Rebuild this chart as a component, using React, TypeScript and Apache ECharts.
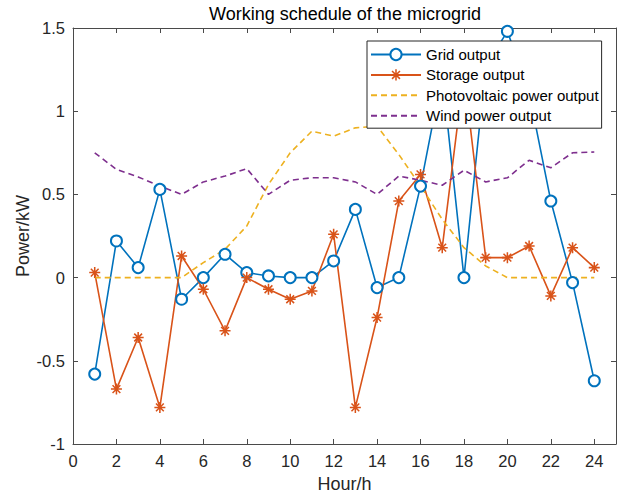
import React, { useEffect, useRef } from "react";
import * as echarts from "echarts";

const hours = [1, 2, 3, 4, 5, 6, 7, 8, 9, 10, 11, 12, 13, 14, 15, 16, 17, 18, 19, 20, 21, 22, 23, 24];
const gridOutput = [-0.58, 0.22, 0.06, 0.53, -0.13, 0.0, 0.14, 0.03, 0.01, 0.0, 0.0, 0.1, 0.41, -0.06, 0.0, 0.55, 1.22, 0.0, 1.27, 1.48, 1.11, 0.46, -0.03, -0.62];
const storageOutput = [0.03, -0.67, -0.36, -0.78, 0.13, -0.07, -0.32, 0.0, -0.07, -0.13, -0.08, 0.26, -0.78, -0.24, 0.46, 0.62, 0.18, 1.23, 0.12, 0.12, 0.19, -0.11, 0.18, 0.06];
const pvOutput = [0, 0, 0, 0, 0, 0.09, 0.17, 0.31, 0.56, 0.75, 0.88, 0.85, 0.9, 0.91, 0.74, 0.55, 0.35, 0.18, 0.07, 0, 0, 0, 0, 0];
const windOutput = [0.75, 0.65, 0.605, 0.55, 0.5, 0.575, 0.61, 0.655, 0.5, 0.585, 0.6, 0.6, 0.575, 0.5, 0.61, 0.585, 0.555, 0.645, 0.575, 0.6, 0.705, 0.66, 0.75, 0.755];
const seriesNames = ["Grid output", "Storage output", "Photovoltaic power output", "Wind power output"];

const asterisk =
  "path://M8.75 1L11.25 1L11.25 19L8.75 19Z M1 8.75L19 8.75L19 11.25L1 11.25Z M4.52 2.75L17.25 15.48L15.48 17.25L2.75 4.52Z M2.75 15.48L15.48 2.75L17.25 4.52L4.52 17.25Z";

const FONT = "'Liberation Sans', Arial, Helvetica, sans-serif";
const AXIS_COLOR = "#4a4a4a";
const LABEL_COLOR = "#262626";

function pairs(vals: number[]) {
  return hours.map((h, i) => [h, vals[i]]);
}

export default function App() {
  const ref = useRef<HTMLDivElement>(null);
  useEffect(() => {
    if (!ref.current) return;
    const chart = echarts.init(ref.current, undefined, { renderer: "svg" });
    const axisCommon = {
      axisLine: { show: true, onZero: false, lineStyle: { color: AXIS_COLOR, width: 1 } },
      axisTick: { show: true, inside: true, length: 5, lineStyle: { color: AXIS_COLOR, width: 1 } },
      splitLine: { show: false },
    };
    chart.setOption({
      animation: false,
      backgroundColor: "#ffffff",
      textStyle: { fontFamily: FONT },
      title: {
        text: "Working schedule of the microgrid",
        left: 345,
        textAlign: "center",
        top: 5,
        padding: 0,
        textStyle: { fontFamily: FONT, fontSize: 18, fontWeight: "normal", color: "#000" },
      },
      grid: { left: 73, right: 5, top: 28, bottom: 52, containLabel: false },
      legend: {
        orient: "vertical",
        left: 367,
        top: 41,
        padding: [6, 3, 5, 3],
        itemWidth: 50,
        itemHeight: 14,
        itemGap: 5.4,
        backgroundColor: "#fff",
        borderColor: "#262626",
        borderWidth: 1,
        borderRadius: 0,
        data: [
          { name: seriesNames[0] },
          { name: seriesNames[1] },
          { name: seriesNames[2], itemStyle: { opacity: 0 } },
          { name: seriesNames[3], itemStyle: { opacity: 0 } },
        ],
        textStyle: { fontFamily: FONT, fontSize: 15, color: "#000" },
      },
      xAxis: [
        {
          ...axisCommon,
          type: "value",
          position: "bottom",
          min: 0,
          max: 25,
          interval: 2,
          name: "Hour/h",
          nameLocation: "middle",
          nameGap: 31,
          nameMoveOverlap: false,
          nameTextStyle: { fontFamily: FONT, fontSize: 18, color: LABEL_COLOR },
          axisLabel: { show: true, margin: 8, showMaxLabel: false, fontFamily: FONT, fontSize: 16.5, color: LABEL_COLOR },
        },
        {
          ...axisCommon,
          type: "value",
          position: "top",
          min: 0,
          max: 25,
          interval: 2,
          axisLabel: { show: false },
        },
      ],
      yAxis: [
        {
          ...axisCommon,
          type: "value",
          position: "left",
          min: -1,
          max: 1.5,
          interval: 0.5,
          name: "Power/kW",
          nameLocation: "middle",
          nameGap: 41,
          nameMoveOverlap: false,
          nameTextStyle: { fontFamily: FONT, fontSize: 18, color: LABEL_COLOR },
          axisLabel: { show: true, margin: 8, fontFamily: FONT, fontSize: 16.5, color: LABEL_COLOR },
        },
        {
          ...axisCommon,
          type: "value",
          position: "right",
          min: -1,
          max: 1.5,
          interval: 0.5,
          axisLabel: { show: false },
        },
      ],
      series: [
        {
          name: seriesNames[0],
          type: "line",
          data: pairs(gridOutput),
          symbol: "emptyCircle",
          symbolSize: 11,
          color: "#0072BD",
          itemStyle: { color: "#0072BD", borderWidth: 1.5 },
          lineStyle: { color: "#0072BD", width: 1.6 },
        },
        {
          name: seriesNames[1],
          type: "line",
          data: pairs(storageOutput),
          symbol: asterisk,
          symbolSize: 11,
          color: "#D95319",
          itemStyle: { color: "#D95319" },
          lineStyle: { color: "#D95319", width: 1.6 },
        },
        {
          name: seriesNames[2],
          type: "line",
          data: pairs(pvOutput),
          symbol: "none",
          color: "#EDB120",
          itemStyle: { opacity: 0 },
          lineStyle: { color: "#EDB120", width: 1.6, type: [6, 4] },
        },
        {
          name: seriesNames[3],
          type: "line",
          data: pairs(windOutput),
          symbol: "none",
          color: "#7E2F8E",
          itemStyle: { opacity: 0 },
          lineStyle: { color: "#7E2F8E", width: 1.6, type: [6, 4] },
        },
      ],
    });
    return () => chart.dispose();
  }, []);
  return <div ref={ref} style={{ width: 621, height: 498, position: "absolute", left: 0, top: 0 }} />;
}
